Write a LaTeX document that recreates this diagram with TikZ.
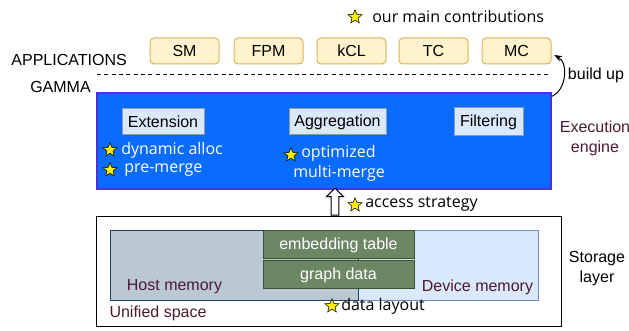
\documentclass[tikz,border=0pt]{standalone}
\usepackage{fontspec}
\setmainfont{Liberation Sans}
\newfontfamily\handfont{Open Sans}
\usetikzlibrary{shapes, arrows.meta, positioning}

\definecolor{appfill}{HTML}{FFF2CC}
\definecolor{appline}{HTML}{D6B656}
\definecolor{engfill}{HTML}{0A6CFF}
\definecolor{engline}{HTML}{4B32D9}
\definecolor{opfill}{HTML}{DAE8FC}
\definecolor{opline}{HTML}{8A9BB0}
\definecolor{hostfill}{HTML}{BAC8D3}
\definecolor{hostline}{HTML}{23445D}
\definecolor{devfill}{HTML}{DAE8FC}
\definecolor{devline}{HTML}{6C8EBF}
\definecolor{datafill}{HTML}{6D8764}
\definecolor{dataline}{HTML}{3A5431}
\definecolor{maroon}{HTML}{4D1A33}

\tikzset{
  app/.style={draw=appline, fill=appfill, rounded corners=3pt, line width=0.75pt,
    minimum width=51.75pt, minimum height=19.5pt, inner sep=0pt},
  op/.style={draw=opline, fill=opfill, line width=0.75pt, minimum height=19.5pt, inner sep=2pt},
  datablock/.style={draw=dataline, fill=datafill, line width=0.75pt, text=white,
    minimum width=113.25pt, minimum height=21pt, inner sep=0pt},
  contrib/.style={star, star points=5, star point ratio=2.3, draw=black, fill=yellow,
    line width=0.4pt, minimum size=11pt, inner sep=0pt},
  note/.style={font=\handfont\fontsize{12}{14}\selectfont, inner sep=0pt, anchor=west},
}

\begin{document}
\begin{tikzpicture}[x=0.75pt, y=-0.75pt, font=\fontsize{12}{15}\selectfont]
  \useasboundingbox (0,0) rectangle (629,331);

  % legend
  \node[contrib] (s0) at (355,17) {};
  \node[note] (legend) at (372,17) {our main contributions};

  % applications
  \node[app] (sm) at (184.5,51) {SM};
  \node[app] (fpm) at (268.5,51) {FPM};
  \node[app] (kcl) at (351.5,51) {kCL};
  \node[app] (tc) at (433.5,51) {TC};
  \node[app] (mc) at (516.5,51) {MC};

  \node[anchor=east, inner sep=0pt] (apps) at (127,60) {APPLICATIONS};
  \node[anchor=east, inner sep=0pt] (gamma) at (91,87) {GAMMA};
  \draw[dashed, dash pattern=on 3pt off 2.5pt, line width=0.75pt] (97,75) -- (548,75);

  % execution engine
  \node[draw=engline, fill=engfill, line width=0.9pt,
    minimum width=340.5pt, minimum height=72pt] (engine) at (324,141) {};
  \node[op, minimum width=61.5pt] (ext) at (163,122) {Extension};
  \node[op, minimum width=72.75pt] (agg) at (337.5,122) {Aggregation};
  \node[op, minimum width=51.75pt, minimum height=21pt] (filt) at (488.5,122) {Filtering};

  \node[contrib] (s1) at (110,150) {};
  \node[note, text=white] (alloc) at (121,150) {dynamic alloc};
  \node[contrib] (s2) at (110,170) {};
  \node[note, text=white] (premerge) at (124,170) {pre-merge};
  \node[contrib] (s3) at (291,155) {};
  \node[note, text=white] (optim) at (301,153) {optimized};
  \node[note, text=white] (multi) at (293,173) {multi-merge};

  \node[text=maroon, align=center] (execlabel) at (595,138) {Execution\\engine};

  \draw[-{Stealth[length=6pt]}, line width=0.75pt] ([yshift=-3pt]engine.north east) to[bend right=65] ([xshift=2pt,yshift=-3pt]mc.east);
  \node (buildup) at (596,75) {build up};

  % access
  \node[single arrow, draw, fill=white, rotate=90, line width=0.75pt,
    minimum height=20.25pt, inner sep=2.5pt, single arrow head extend=3.5pt] (uparrow) at (335,203.5) {};
  \node[contrib] (s4) at (355,205) {};
  \node[note] (access) at (365,204) {access strategy};

  % storage
  \node[draw, line width=0.75pt, minimum width=348.75pt, minimum height=82.5pt] (storage) at (328.5,272) {};
  \node[draw=devline, fill=devfill, line width=0.75pt, minimum width=186pt, minimum height=52.5pt] (device) at (414,266) {};
  \node[draw=hostline, fill=hostfill, line width=0.75pt, minimum width=186pt, minimum height=52.5pt] (host) at (234,266) {};
  \node[datablock] (emb) at (338.5,245) {embedding table};
  \node[datablock] (graph) at (338.5,275) {graph data};

  \node[text=maroon] (hostlabel) at (174.5,287) {Host memory};
  \node[text=maroon] (devlabel) at (477.5,287) {Device memory};
  \node[text=maroon] (unified) at (158,313) {Unified space};

  \node[contrib] (s5) at (332,306) {};
  \node[note] (layout) at (341,306) {data layout};

  \node[align=center] (storagelabel) at (597,269) {Storage\\layer};
\end{tikzpicture}
\end{document}
